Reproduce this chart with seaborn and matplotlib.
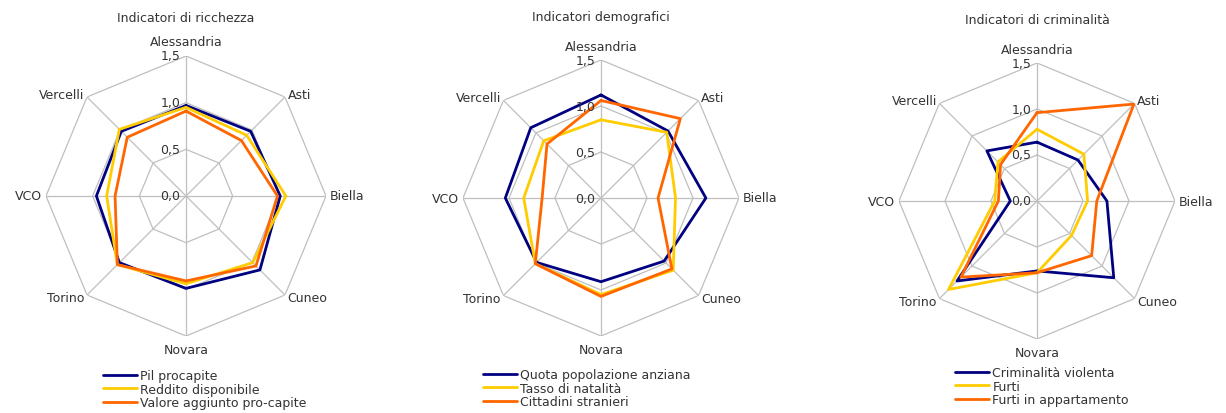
import numpy as np
import pandas as pd
import matplotlib
matplotlib.use("Agg")
import matplotlib.pyplot as plt
import seaborn as sns

# province in senso orario partendo dall'alto
province = ["Alessandria", "Asti", "Biella", "Cuneo", "Novara", "Torino", "VCO", "Vercelli"]

# Indicatori di ricchezza
pil_procapite = [0.97, 0.98, 1.01, 1.12, 0.99, 1.01, 0.96, 0.98]
reddito_disponibile = [0.95, 0.92, 1.07, 1.01, 0.94, 1.04, 0.85, 1.01]
valore_aggiunto = [0.91, 0.84, 0.98, 1.06, 0.91, 1.04, 0.76, 0.89]

# Indicatori demografici
quota_anziani = [1.12, 1.03, 1.14, 0.97, 0.91, 0.99, 1.04, 1.08]
tasso_natalita = [0.85, 1.01, 0.81, 1.11, 1.05, 1.01, 0.84, 0.88]
cittadini_stranieri = [1.06, 1.22, 0.62, 1.09, 1.07, 1.01, 0.64, 0.83]

# Indicatori di criminalita
criminalita_violenta = [0.64, 0.63, 0.76, 1.18, 0.76, 1.23, 0.29, 0.77]
furti = [0.78, 0.72, 0.55, 0.53, 0.78, 1.36, 0.46, 0.60]
furti_appartamento = [0.96, 1.49, 0.65, 0.84, 0.78, 1.17, 0.42, 0.56]

tick_values = [0.0, 0.5, 1.0, 1.5]
tick_labels = ["0,0", "0,5", "1,0", "1,5"]

colori = ["#000080", "#FFCC00", "#FF6600"]
grigio = "#BFBFBF"
testo = "#333333"

pannelli = [
    ("Indicatori di ricchezza",
     {"Pil procapite": pil_procapite,
      "Reddito disponibile": reddito_disponibile,
      "Valore aggiunto pro-capite": valore_aggiunto}),
    ("Indicatori demografici",
     {"Quota popolazione anziana": quota_anziani,
      "Tasso di natalità": tasso_natalita,
      "Cittadini stranieri": cittadini_stranieri}),
    ("Indicatori di criminalità",
     {"Criminalità violenta": criminalita_violenta,
      "Furti": furti,
      "Furti in appartamento": furti_appartamento}),
]

# posizioni in pixel: centro x, centro y, raggio, y titolo, x legenda, y legenda
layout = [
    (186, 197, 140, 18, 103, 370),
    (601, 199, 138, 18, 483, 369),
    (1037, 202, 138, 20, 955, 367),
]

sns.set_theme(style="white")
plt.rcParams["font.family"] = ["DejaVu Sans"]

W, H = 1226, 414
fig = plt.figure(figsize=(W / 100, H / 100), dpi=100)

n = len(province)
angoli = np.arange(n) * 2 * np.pi / n


def radar(ax, titolo, serie, cx, ty):
    ax.set_theta_zero_location("N")
    ax.set_theta_direction(-1)
    ax.grid(False)
    ax.spines["polar"].set_visible(False)
    ax.set_xticks([])
    ax.set_yticks([])
    ax.set_facecolor("none")

    # griglia ottagonale
    chiuso = np.append(angoli, angoli[0])
    for v in tick_values[1:]:
        ax.plot(chiuso, [v] * (n + 1), color=grigio, lw=0.9, zorder=1)
    for a in angoli:
        ax.plot([a, a], [0, 1.5], color=grigio, lw=0.9, zorder=1)

    # formato lungo, con il primo punto ripetuto per chiudere il poligono
    righe = []
    for nome, valori in serie.items():
        for i in list(range(n)) + [0]:
            righe.append({"theta": angoli[i], "r": valori[i], "serie": nome})
    df = pd.DataFrame(righe)
    sns.lineplot(data=df, x="theta", y="r", hue="serie", palette=colori,
                 sort=False, estimator=None, lw=2.0, ax=ax, zorder=3)
    ax.set_xlabel("")
    ax.set_ylabel("")
    ax.set_ylim(0, 1.5)

    for v, lab in zip(tick_values, tick_labels):
        ax.annotate(lab, xy=(0, v), xytext=(-4, 0), textcoords="offset points",
                    ha="right", va="center", fontsize=9, color=testo)

    allineamenti = ["center", "left", "left", "left", "center", "right", "right", "right"]
    for a, nome, ha in zip(angoli, province, allineamenti):
        r = 1.65 if ha == "center" else 1.54
        ax.text(a, r, nome, ha=ha, va="center", fontsize=9, color=testo)

    fig.text(cx / W, 1 - ty / H, titolo, ha="center", va="center",
             fontsize=9, color=testo)


for (titolo, serie), (cx, cy, rad, ty, lx, ly) in zip(pannelli, layout):
    ax = fig.add_axes([(cx - rad) / W, (H - cy - rad) / H, 2 * rad / W, 2 * rad / H],
                      projection="polar")
    radar(ax, titolo, serie, cx, ty)
    leg = ax.legend(loc="upper left", bbox_to_anchor=(lx / W, 1 - ly / H),
                    bbox_transform=fig.transFigure, frameon=False, fontsize=9,
                    handlelength=2.7, handletextpad=0.3, labelspacing=0.05,
                    borderpad=0, borderaxespad=0)
    for t in leg.get_texts():
        t.set_color(testo)
    for l in leg.get_lines():
        l.set_linewidth(2.0)

fig.savefig("out.png", dpi=100)
